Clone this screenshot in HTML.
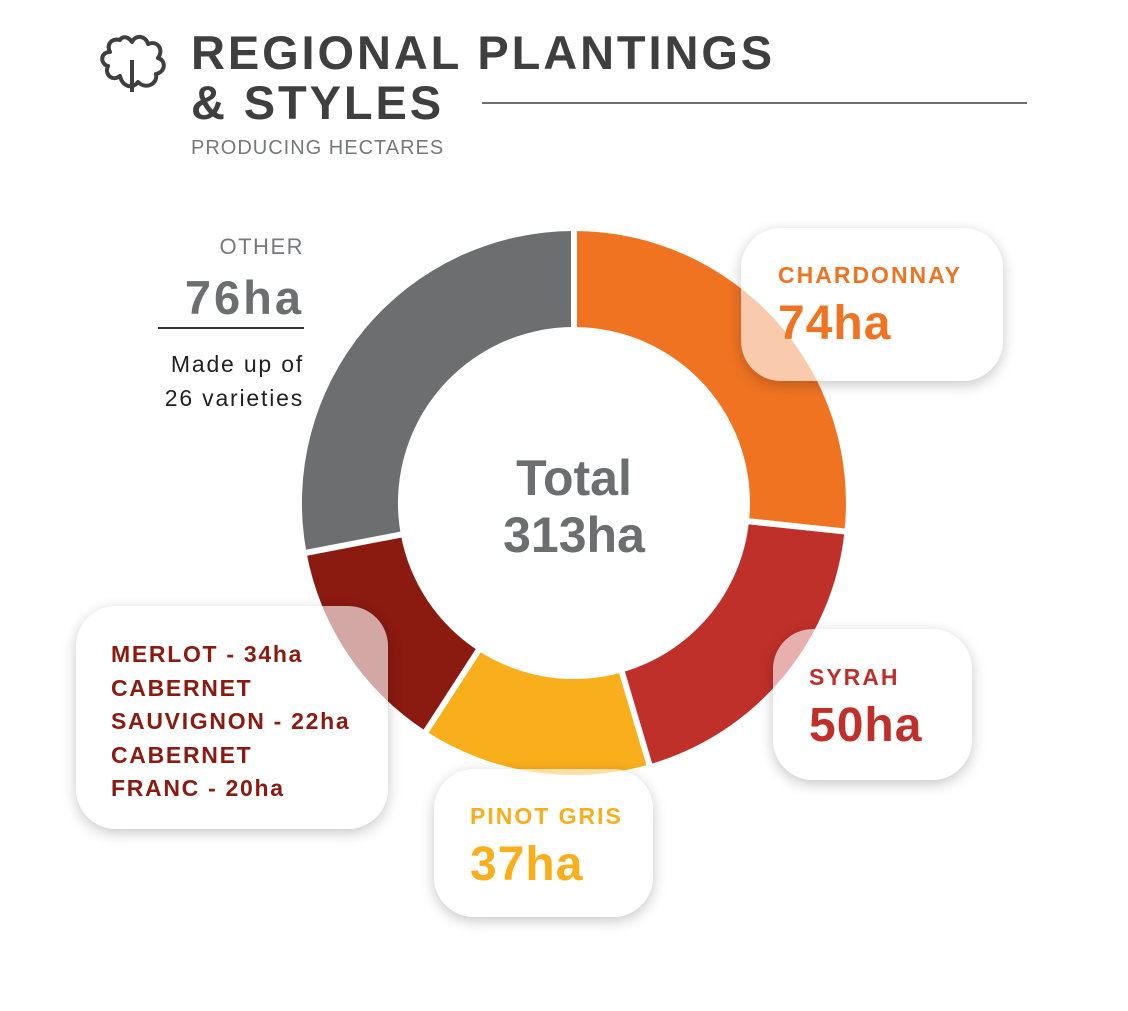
<!DOCTYPE html>
<html><head><meta charset="utf-8"><style>
body{margin:0;width:1128px;height:1011px;background:#fff;font-family:"Liberation Sans",sans-serif;position:relative;overflow:hidden}
.t{position:absolute;white-space:nowrap}
.card{position:absolute;background:rgba(255,255,255,0.62);border-radius:40px;box-shadow:0 4px 14px rgba(0,0,0,0.22)}
.lab{font-size:23px;font-weight:bold;letter-spacing:2px}
.num{font-size:48px;font-weight:bold;letter-spacing:1px}
</style></head><body>
<svg width="1128" height="1011" style="position:absolute;left:0;top:0">
<g fill="none" stroke="#3f3f3f" stroke-width="4" stroke-linejoin="round">
<path d="M120 40 C112 38 106 44 110 52 C100 52 100 64 108 66 C104 74 112 82 120 76 C122 86 132 90 138 82 C146 90 158 84 156 74 C166 72 166 60 158 58 C164 50 158 40 148 44 C146 36 136 34 132 42 C128 36 122 36 120 40 Z"/>
<path d="M132 60 L132 92"/>
</g>
<line x1="482" y1="103" x2="1027" y2="103" stroke="#6d6e70" stroke-width="2"/>
<line x1="158" y1="328" x2="304" y2="328" stroke="#333" stroke-width="2"/>
<path d="M574 231 A272 272 0 0 1 844.5 531.4 L749 521.4 A176 176 0 0 0 574 327 Z" fill="#f07322"/>
<path d="M844.5 531.4 A272 272 0 0 1 649 764.5 L622.5 672.2 A176 176 0 0 0 749 521.4 Z" fill="#c0302a"/>
<path d="M649 764.5 A272 272 0 0 1 425.9 731.1 L478.1 650.6 A176 176 0 0 0 622.5 672.2 Z" fill="#f9ae1b"/>
<path d="M425.9 731.1 A272 272 0 0 1 306.5 552.6 L400.9 535.1 A176 176 0 0 0 478.1 650.6 Z" fill="#8b1a10"/>
<path d="M306.5 552.6 A272 272 0 0 1 574 231 L574 327 A176 176 0 0 0 400.9 535.1 Z" fill="#6d6e70"/>
<g stroke="#fff" stroke-width="6">
<line x1="574" y1="225" x2="574" y2="330"/>
<line x1="850" y1="532" x2="746" y2="521"/>
<line x1="651" y1="770" x2="621" y2="669"/>
<line x1="423" y1="736" x2="480" y2="648"/>
<line x1="300" y1="554" x2="404" y2="534"/>
</g>
</svg>
<div class="t" style="left:191px;top:28px;font-size:47px;font-weight:bold;color:#3f3f3f;line-height:50px;letter-spacing:2.9px">REGIONAL PLANTINGS<br>&amp; STYLES</div>
<div class="t" style="left:191px;top:137px;font-size:20px;color:#77787b;letter-spacing:1px">PRODUCING HECTARES</div>
<div class="t" style="left:0;width:304px;text-align:right;top:234px;font-size:22px;color:#77787b;letter-spacing:1.5px">OTHER</div>
<div class="t" style="left:0;width:304px;text-align:right;top:270px;font-size:47px;font-weight:bold;color:#6d6e70;letter-spacing:3px">76ha</div>
<div class="t" style="left:0;width:304px;text-align:right;top:347px;font-size:23px;color:#231f20;line-height:34px;letter-spacing:1.8px">Made up of<br>26 varieties</div>
<div class="t" style="left:374px;width:400px;text-align:center;top:450px;font-size:50px;font-weight:bold;color:#6d6e70;line-height:57px">Total<br>313ha</div>
<div class="card" style="left:741px;top:228px;width:262px;height:153px"></div>
<div class="t lab" style="left:778px;top:262px;color:#f07322">CHARDONNAY</div>
<div class="t num" style="left:778px;top:296px;color:#f07322">74ha</div>
<div class="card" style="left:773px;top:629px;width:199px;height:151px"></div>
<div class="t lab" style="left:809px;top:664px;color:#c0302a">SYRAH</div>
<div class="t num" style="left:809px;top:698px;color:#c0302a">50ha</div>
<div class="card" style="left:434px;top:769px;width:219px;height:148px"></div>
<div class="t lab" style="left:470px;top:803px;color:#f9ae1b">PINOT GRIS</div>
<div class="t num" style="left:470px;top:837px;color:#f9ae1b">37ha</div>
<div class="card" style="left:76px;top:606px;width:312px;height:223px"></div>
<div class="t lab" style="left:111px;top:638px;color:#8b1a10;line-height:33.5px;letter-spacing:1.7px">MERLOT - 34ha<br>CABERNET<br>SAUVIGNON - 22ha<br>CABERNET<br>FRANC - 20ha</div>
</body></html>
